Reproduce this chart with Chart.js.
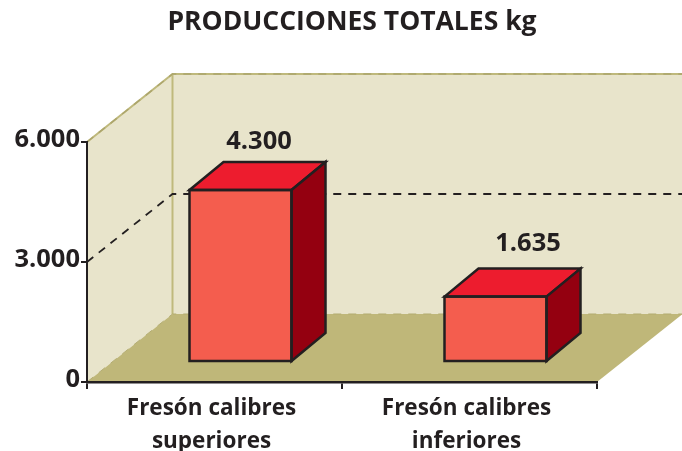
<!DOCTYPE html>
<html><head><meta charset="utf-8">
<style>html,body{margin:0;padding:0;background:#fff;overflow:hidden}canvas{display:block}</style>
<script src="https://cdn.jsdelivr.net/npm/chart.js@4"></script>
</head><body><canvas id="c" width="682" height="451"></canvas>
<script>
const categories = [["Fresón calibres","superiores"],["Fresón calibres","inferiores"]];
const produccion = [4300,1635];
const yTicks = [0,3000,6000];
const titleText = "PRODUCCIONES TOTALES kg";

const INK="#231f20", FONT="'Open Sans', Lato, sans-serif";
const fmt=v=>String(v).replace(/\B(?=(\d{3})+$)/g,".");
const floorD={x:85.5,y:68}, barD={x:34,y:28}, shift={x:26,y:20};
const labelShift=[{x:18.5,y:13.5},{x:32.5,y:17.5}];

const shape3d={
  id:"shape3d",
  afterLayout(chart){ chart.titleBlock.left+=107; },
  beforeDraw(chart){
    const {ctx,chartArea:a,scales:{y}}=chart;
    const L=a.left,R=a.right,B=a.bottom,T=a.top,dx=floorD.x,dy=floorD.y;
    ctx.save();
    ctx.fillStyle="#e8e4cb";
    ctx.beginPath();ctx.moveTo(L,T);ctx.lineTo(L+dx,T-dy);ctx.lineTo(R+dx,T-dy);ctx.lineTo(R+dx,B-dy);ctx.lineTo(L+dx,B-dy);ctx.lineTo(L,B);ctx.closePath();ctx.fill();
    ctx.fillStyle="#bfb779";
    ctx.beginPath();ctx.moveTo(L,B);ctx.lineTo(L+dx,B-dy);ctx.lineTo(R+dx,B-dy);ctx.lineTo(R,B);ctx.closePath();ctx.fill();
    ctx.strokeStyle="#bfb97c";ctx.lineWidth=2;
    ctx.beginPath();ctx.moveTo(L,T);ctx.lineTo(L+dx,T-dy);ctx.lineTo(R+dx,T-dy);
    ctx.moveTo(L+dx,T-dy);ctx.lineTo(L+dx,B-dy);ctx.stroke();
    yTicks.forEach(v=>{
      const p=y.getPixelForValue(v);
      if(v===3000){ctx.strokeStyle=INK;ctx.lineWidth=1.8;}
      else if(v===0){ctx.strokeStyle="#b3ac71";ctx.lineWidth=1;}
      else {ctx.strokeStyle="#aca56c";ctx.lineWidth=1.5;}
      ctx.setLineDash([8,7]);
      ctx.beginPath();ctx.moveTo(L,p);ctx.lineTo(L+dx,p-dy);ctx.lineTo(R+dx,p-dy);ctx.stroke();
    });
    ctx.restore();
  },
  beforeDatasetsDraw(chart){chart.ctx.save();chart.ctx.translate(shift.x,-shift.y);},
  afterDatasetsDraw(chart){
    const ctx=chart.ctx;
    ctx.restore();
    ctx.save();
    ctx.lineJoin="miter";
    chart.getDatasetMeta(0).data.forEach((bar,i)=>{
      const hw=bar.width/2,l=bar.x-hw+shift.x,r=bar.x+hw+shift.x,t=bar.y-shift.y,b=bar.base-shift.y,dx=barD.x,dy=barD.y;
      ctx.strokeStyle=INK;ctx.lineWidth=2.5;
      ctx.fillStyle="#ed1c2e";
      ctx.beginPath();ctx.moveTo(l,t);ctx.lineTo(l+dx,t-dy);ctx.lineTo(r+dx,t-dy);ctx.lineTo(r,t);ctx.closePath();ctx.fill();ctx.stroke();
      ctx.fillStyle="#940010";
      ctx.beginPath();ctx.moveTo(r,t);ctx.lineTo(r+dx,t-dy);ctx.lineTo(r+dx,b-dy);ctx.lineTo(r,b);ctx.closePath();ctx.fill();ctx.stroke();
      ctx.strokeRect(l,t,r-l,b-t);
      ctx.fillStyle=INK;ctx.font="bold 25.5px "+FONT;ctx.textAlign="center";ctx.textBaseline="alphabetic";
      ctx.fillText(fmt(produccion[i]),(l+r)/2+labelShift[i].x,t-dy-labelShift[i].y);
    });
    ctx.restore();
  }
};

new Chart(document.getElementById("c"),{
  type:"bar",
  data:{labels:categories,datasets:[{data:produccion,backgroundColor:"#f45d4e",borderWidth:0,barPercentage:0.4,categoryPercentage:1,clip:false}]},
  plugins:[shape3d],
  options:{
    responsive:false,animation:false,
    layout:{padding:{left:0,right:85,top:0,bottom:0}},
    plugins:{
      legend:{display:false},tooltip:{enabled:false},
      title:{display:true,text:titleText,color:INK,font:{family:FONT,size:26.5,weight:"bold",lineHeight:1.2},padding:{top:7,bottom:103.2}}
    },
    scales:{
      x:{
        afterFit(s){s.height=69;},
        border:{color:INK,width:2.5},
        grid:{drawOnChartArea:false,drawTicks:true,tickLength:7,color:INK,lineWidth:2},
        ticks:{color:INK,padding:3,maxRotation:0,autoSkip:false,labelOffset:-3,font:{family:FONT,size:22.5,weight:"bold",lineHeight:1.47}}
      },
      y:{
        min:0,max:6000,
        afterFit(s){s.width=87;},
        afterBuildTicks(s){s.ticks=yTicks.map(v=>({value:v}));},
        border:{color:INK,width:2},
        grid:{drawOnChartArea:false,drawTicks:true,tickLength:6,color:INK,lineWidth:2},
        ticks:{color:INK,padding:1,labelOffset:-2.5,callback:v=>fmt(v),font:{family:FONT,size:25.5,weight:"bold"}}
      }
    }
  }
});
</script></body></html>
